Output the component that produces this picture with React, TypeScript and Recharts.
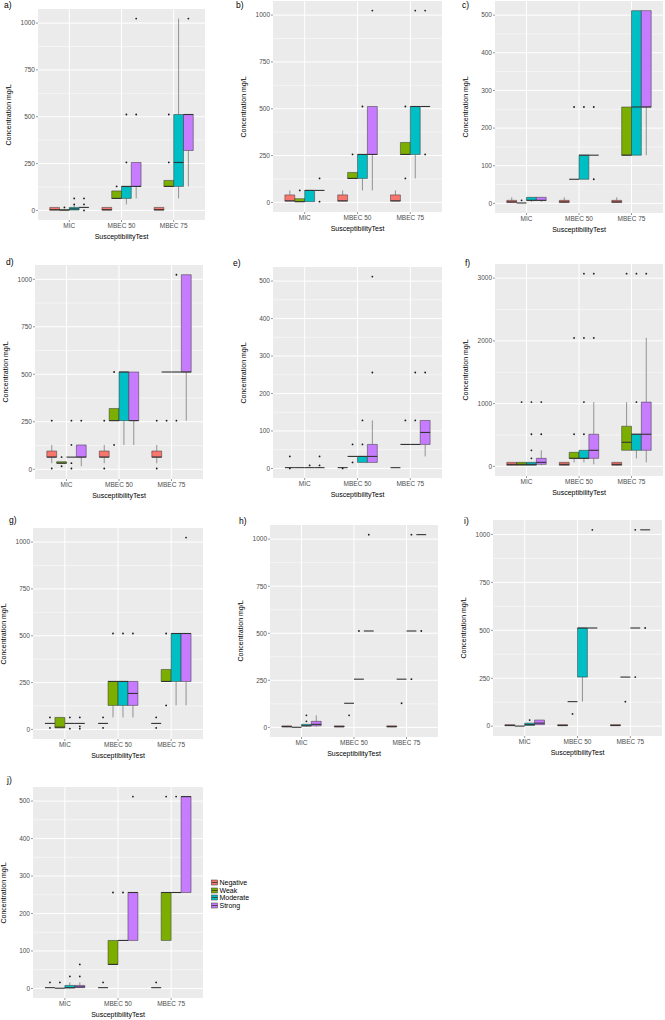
import React from "react";
import {
  ComposedChart,
  XAxis,
  YAxis,
  CartesianGrid,
  ReferenceArea,
  ReferenceLine,
  Scatter,
} from "recharts";

const tests = ["MIC", "MBEC 50", "MBEC 75"];
const groups = ["Negative", "Weak", "Moderate", "Strong"];
const groupColors = ["#F8766D", "#7CAE00", "#00BFC4", "#C77CFF"];

const ticks1024 = [0, 250, 500, 750, 1000];
const minor1024 = [125, 375, 625, 875];
const ticks512 = [0, 100, 200, 300, 400, 500];
const minor512 = [50, 150, 250, 350, 450];
const ticks3072 = [0, 1000, 2000, 3000];
const minor3072 = [500, 1500, 2500];

// [lower whisker, q1, median, q3, upper whisker]
// order: MIC (Neg, Weak, Mod, Strong), MBEC 50 (...), MBEC 75 (...)
const statsA = [
  [0, 1, 4, 16, 16], [0.5, 1, 2, 4, 8], [1, 2, 8, 16, 32], [16, 16, 16, 16, 16],
  [0, 1, 4, 16, 16], [64, 64, 64, 104, 104], [32, 64, 128, 128, 128], [64, 128, 128, 256, 256],
  [0, 1, 4, 16, 16], [128, 128, 128, 160, 160], [64, 128, 256, 512, 1024], [128, 320, 512, 512, 512],
];
const outA = [
  [], [16], [64, 32], [64, 32, 0],
  [], [128], [256, 512], [512, 1024],
  [], [256, 512], [], [1024],
];

const statsB = [
  [8, 8, 8, 40, 64], [4, 4, 4, 20, 20], [4, 4, 64, 64, 64], [64, 64, 64, 64, 64],
  [8, 8, 8, 40, 64], [128, 128, 128, 160, 160], [64, 128, 256, 256, 256], [64, 256, 256, 512, 512],
  [8, 8, 8, 40, 64], [256, 256, 256, 320, 320], [128, 256, 512, 512, 512], [512, 512, 512, 512, 512],
];
const outB = [
  [], [64], [], [128, 4],
  [], [256], [512], [1024],
  [], [512, 128], [1024], [1024, 256],
];

const statsC = [
  [1, 2, 4, 8, 16], [1, 1, 1, 1, 1], [4, 8, 8, 16, 16], [4, 8, 8, 16, 16],
  [1, 2, 4, 8, 16], [64, 64, 64, 64, 64], [64, 64, 128, 128, 128], [128, 128, 128, 128, 128],
  [1, 2, 4, 8, 16], [128, 128, 128, 256, 256], [128, 128, 256, 512, 512], [128, 256, 256, 512, 512],
];
const outC = [
  [], [8], [], [],
  [], [256], [256], [256, 64],
  [], [], [], [],
];

const statsD = [
  [32, 64, 64, 96, 128], [32, 32, 32, 40, 40], [64, 64, 64, 64, 64], [16, 64, 64, 128, 128],
  [32, 64, 64, 96, 128], [256, 256, 256, 320, 320], [128, 256, 512, 512, 512], [128, 256, 256, 512, 512],
  [32, 64, 64, 96, 128], [512, 512, 512, 512, 512], [512, 512, 512, 512, 512], [256, 512, 512, 1024, 1024],
];
const outD = [
  [256, 4], [64, 16], [256, 128, 32, 4], [256],
  [256, 4], [512, 128], [], [],
  [256, 4], [256], [256, 1024], [],
];

const statsE = [
  [2, 2, 2, 2, 2], [2, 2, 2, 2, 2], [2, 2, 2, 2, 2], [2, 2, 2, 2, 2],
  [2, 2, 2, 2, 2], [32, 32, 32, 32, 32], [16, 16, 32, 32, 32], [16, 16, 32, 64, 128],
  [2, 2, 2, 2, 2], [64, 64, 64, 64, 64], [64, 64, 64, 64, 64], [32, 64, 96, 128, 128],
];
const outE = [
  [32, 0], [], [8], [32, 8],
  [0], [64, 16], [128, 64], [256, 512],
  [], [128], [128, 256], [256],
];

const statsF = [
  [8, 16, 32, 64, 64], [8, 16, 32, 64, 64], [8, 16, 32, 64, 64], [16, 32, 64, 128, 256],
  [8, 16, 32, 64, 64], [64, 128, 128, 224, 224], [64, 128, 128, 256, 256], [32, 128, 256, 512, 1024],
  [8, 16, 32, 64, 64], [256, 256, 384, 640, 1024], [128, 256, 512, 512, 512], [64, 256, 512, 1024, 2048],
];
const outF = [
  [], [1024], [1024, 512, 256, 128], [1024, 512],
  [], [2048, 512], [3072, 2048, 1024, 512], [3072, 2048],
  [], [3072], [3072, 1024], [3072],
];

const statsG = [
  [32, 32, 32, 32, 32], [8, 8, 12, 64, 64], [32, 32, 32, 32, 32], [32, 32, 32, 32, 32],
  [32, 32, 32, 32, 32], [64, 128, 256, 256, 256], [64, 128, 256, 256, 256], [64, 128, 192, 256, 256],
  [32, 32, 32, 32, 32], [256, 256, 256, 320, 320], [128, 256, 512, 512, 512], [128, 256, 512, 512, 512],
];
const outG = [
  [64, 8], [], [64, 4], [64, 16, 4],
  [64, 8], [512], [512], [512],
  [64, 8], [512, 128], [], [1024],
];

const statsH = [
  [1, 2, 4, 8, 8], [0.5, 0.5, 0.5, 0.5, 0.5], [4, 8, 8, 16, 16], [4, 8, 16, 32, 64],
  [1, 2, 4, 8, 8], [128, 128, 128, 128, 128], [256, 256, 256, 256, 256], [512, 512, 512, 512, 512],
  [1, 2, 4, 8, 8], [256, 256, 256, 256, 256], [512, 512, 512, 512, 512], [1024, 1024, 1024, 1024, 1024],
];
const outH = [
  [], [], [64, 32], [],
  [], [64], [512], [1024],
  [], [128], [256, 1024], [512],
];

const statsI = [
  [1, 2, 4, 8, 8], [0.5, 0.5, 0.5, 0.5, 0.5], [4, 4, 8, 16, 16], [8, 8, 16, 32, 32],
  [1, 2, 4, 8, 8], [128, 128, 128, 128, 128], [128, 256, 512, 512, 512], [512, 512, 512, 512, 512],
  [1, 2, 4, 8, 8], [256, 256, 256, 256, 256], [512, 512, 512, 512, 512], [1024, 1024, 1024, 1024, 1024],
];
const outI = [
  [], [], [32], [],
  [], [64], [], [1024],
  [], [128], [256, 1024], [512],
];

const statsJ = [
  [2, 2, 2, 2, 2], [0.5, 0.5, 0.5, 0.5, 0.5], [0, 1, 2, 8, 16], [2, 2, 4, 8, 16],
  [2, 2, 2, 2, 2], [64, 64, 64, 128, 128], [128, 128, 128, 128, 128], [128, 128, 256, 256, 256],
  [2, 2, 2, 2, 2], [128, 128, 256, 256, 256], [256, 256, 256, 256, 256], [256, 256, 512, 512, 512],
];
const outJ = [
  [16], [16], [32], [64, 32],
  [16], [256], [256], [512],
  [16], [512], [512], [],
];

const FONT = "'Liberation Sans', Arial, sans-serif";
const AXIS_W = 26;
const AXIS_H = 14;
const BOX_W = 0.75 / 4;
const EDGE = "#333333";

// panel placement on the page (plot area of each panel)
const panels = [
  { tag: "a)", stats: statsA, out: outA, max: 1024, ticks: ticks1024, minor: minor1024, left: 38, top: 9, w: 167, h: 211, tagX: 4, tagY: 0 },
  { tag: "b)", stats: statsB, out: outB, max: 1024, ticks: ticks1024, minor: minor1024, left: 273, top: 1, w: 169, h: 211, tagX: 236, tagY: 0 },
  { tag: "c)", stats: statsC, out: outC, max: 512, ticks: ticks512, minor: minor512, left: 495, top: 1, w: 168, h: 212, tagX: 462, tagY: 0 },
  { tag: "d)", stats: statsD, out: outD, max: 1024, ticks: ticks1024, minor: minor1024, left: 35, top: 265, w: 168, h: 214, tagX: 6, tagY: 257 },
  { tag: "e)", stats: statsE, out: outE, max: 512, ticks: ticks512, minor: minor512, left: 273, top: 267, w: 169, h: 211, tagX: 233, tagY: 258 },
  { tag: "f)", stats: statsF, out: outF, max: 3072, ticks: ticks3072, minor: minor3072, left: 495, top: 264, w: 168, h: 212, tagX: 465, tagY: 258 },
  { tag: "g)", stats: statsG, out: outG, max: 1024, ticks: ticks1024, minor: minor1024, left: 33, top: 528, w: 170, h: 211, tagX: 9, tagY: 515 },
  { tag: "h)", stats: statsH, out: outH, max: 1024, ticks: ticks1024, minor: minor1024, left: 270, top: 525, w: 168, h: 212, tagX: 239, tagY: 516 },
  { tag: "i)", stats: statsI, out: outI, max: 1024, ticks: ticks1024, minor: minor1024, left: 493, top: 520, w: 169, h: 216, tagX: 464, tagY: 516 },
  { tag: "j)", stats: statsJ, out: outJ, max: 512, ticks: ticks512, minor: minor512, left: 33, top: 787, w: 170, h: 211, tagX: 7, tagY: 775 },
];

type Panel = (typeof panels)[number];

function BoxPanel({ p }: { p: Panel }) {
  const yMin = -0.05 * p.max;
  const yMax = 1.05 * p.max;
  const boxes = p.stats.map((s, i) => {
    const cx = Math.floor(i / 4) + 1 + ((i % 4) - 1.5) * BOX_W;
    return { s, cx, x1: cx - BOX_W / 2, x2: cx + BOX_W / 2, color: groupColors[i % 4] };
  });
  const points = p.out.flatMap((vals, i) => vals.map((v) => ({ x: boxes[i].cx, y: v })));

  return (
    <>
      <div style={{ position: "absolute", left: p.tagX, top: p.tagY, fontSize: 8.5, fontFamily: FONT, color: "#000" }}>
        {p.tag}
      </div>
      <div
        style={{
          position: "absolute",
          left: p.left - 29 - 60,
          top: p.top + p.h / 2 - 5,
          width: 120,
          height: 10,
          lineHeight: "10px",
          textAlign: "center",
          fontSize: 7,
          fontFamily: FONT,
          transform: "rotate(-90deg)",
        }}
      >
        Concentration mg/L
      </div>
      <div
        style={{
          position: "absolute",
          left: p.left,
          top: p.top + p.h + 13,
          width: p.w,
          textAlign: "center",
          fontSize: 7,
          fontFamily: FONT,
        }}
      >
        SusceptibilityTest
      </div>
      <div style={{ position: "absolute", left: p.left - AXIS_W, top: p.top }}>
        <ComposedChart
          width={p.w + AXIS_W}
          height={p.h + AXIS_H}
          data={points}
          margin={{ top: 0, right: 0, bottom: 0, left: 0 }}
        >
          <CartesianGrid fill="#EBEBEB" stroke="#FFFFFF" strokeWidth={0.5} vertical={false} horizontalValues={p.minor} />
          <CartesianGrid stroke="#FFFFFF" strokeWidth={1} horizontalValues={p.ticks} verticalValues={[1, 2, 3]} />
          <XAxis
            type="number"
            dataKey="x"
            domain={[0.4, 3.6]}
            ticks={[1, 2, 3]}
            tickFormatter={(v: number) => tests[v - 1]}
            height={AXIS_H}
            axisLine={false}
            tickSize={2}
            tickMargin={1}
            tickLine={{ stroke: EDGE, strokeWidth: 0.5 }}
            tick={{ fontSize: 6.5, fill: "#4D4D4D", fontFamily: FONT }}
            interval={0}
          />
          <YAxis
            type="number"
            dataKey="y"
            domain={[yMin, yMax]}
            ticks={p.ticks}
            width={AXIS_W}
            axisLine={false}
            tickSize={2}
            tickMargin={1}
            tickLine={{ stroke: EDGE, strokeWidth: 0.5 }}
            tick={{ fontSize: 6.5, fill: "#4D4D4D", fontFamily: FONT }}
            interval={0}
          />
          {boxes.map((b, i) =>
            b.s[0] < b.s[1] ? (
              <ReferenceLine
                key={`wl-${i}`}
                segment={[{ x: b.cx, y: b.s[0] }, { x: b.cx, y: b.s[1] }]}
                stroke="#555555"
                strokeWidth={0.6}
              />
            ) : null
          )}
          {boxes.map((b, i) =>
            b.s[4] > b.s[3] ? (
              <ReferenceLine
                key={`wh-${i}`}
                segment={[{ x: b.cx, y: b.s[3] }, { x: b.cx, y: b.s[4] }]}
                stroke="#555555"
                strokeWidth={0.6}
              />
            ) : null
          )}
          {boxes.map((b, i) => (
            <ReferenceArea
              key={`box-${i}`}
              x1={b.x1}
              x2={b.x2}
              y1={b.s[1]}
              y2={b.s[3]}
              fill={b.color}
              fillOpacity={1}
              stroke={EDGE}
              strokeWidth={0.5}
            />
          ))}
          {boxes.map((b, i) => (
            <ReferenceLine
              key={`med-${i}`}
              segment={[{ x: b.x1, y: b.s[2] }, { x: b.x2, y: b.s[2] }]}
              stroke={EDGE}
              strokeWidth={1.1}
            />
          ))}
          <Scatter
            dataKey="y"
            isAnimationActive={false}
            shape={(props: any) => <circle cx={props.cx} cy={props.cy} r={0.9} fill="#1A1A1A" />}
          />
        </ComposedChart>
      </div>
    </>
  );
}

function Legend() {
  return (
    <div style={{ position: "absolute", left: 211, top: 879, fontFamily: FONT, fontSize: 7 }}>
      {groups.map((g, i) => (
        <div key={g} style={{ display: "flex", alignItems: "center", height: 7.6 }}>
          <svg width={7} height={7} style={{ marginRight: 1.5 }}>
            <rect x={0.5} y={1} width={6} height={5} fill={groupColors[i]} stroke={EDGE} strokeWidth={0.5} />
            <line x1={0.5} x2={6.5} y1={3.5} y2={3.5} stroke={EDGE} strokeWidth={0.8} />
          </svg>
          <span style={{ lineHeight: "7.6px" }}>{g}</span>
        </div>
      ))}
    </div>
  );
}

export default function App() {
  return (
    <div style={{ position: "absolute", left: 0, top: 0, width: 665, height: 1020, background: "#FFFFFF", overflow: "hidden" }}>
      {panels.map((p) => (
        <BoxPanel key={p.tag} p={p} />
      ))}
      <Legend />
    </div>
  );
}
